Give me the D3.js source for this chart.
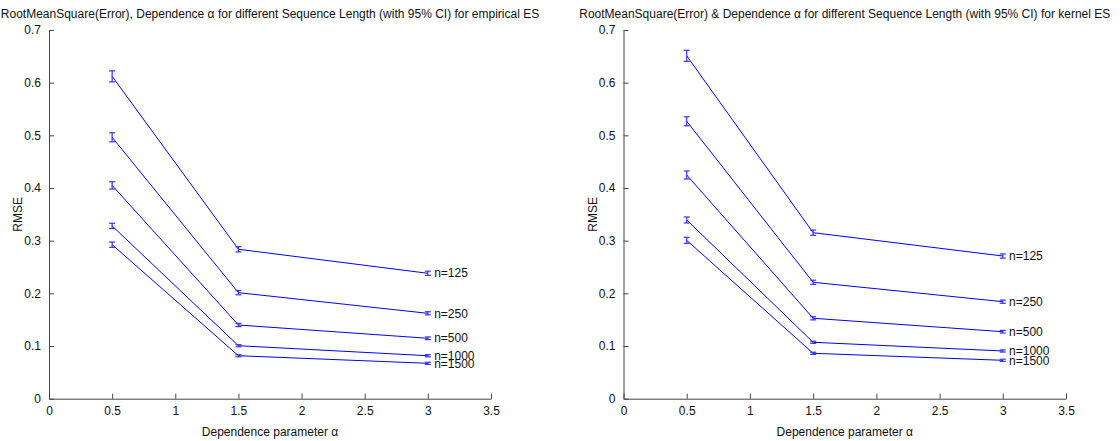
<!DOCTYPE html>
<html><head><meta charset="utf-8">
<script src="https://cdn.jsdelivr.net/npm/d3@7"></script>
<style>
html,body{margin:0;padding:0;background:#fff;}
svg{display:block;font-family:"Liberation Sans",Arial,Helvetica,sans-serif;}
</style></head>
<body><svg id="chart" width="1120" height="441"></svg>
<script>
const alphas = [0.5, 1.5, 3];
const seqLabels = ["n=125", "n=250", "n=500", "n=1000", "n=1500"];
const empRmse = [
  [0.612, 0.2837, 0.2381],
  [0.4963, 0.2013, 0.1621],
  [0.405, 0.1399, 0.1147],
  [0.328, 0.1006, 0.0816],
  [0.2924, 0.0816, 0.0672]
];
const empCI = [
  [0.0105, 0.005, 0.004],
  [0.0086, 0.004, 0.003],
  [0.007, 0.003, 0.0025],
  [0.005, 0.002, 0.002],
  [0.005, 0.002, 0.002]
];
const kerRmse = [
  [0.651, 0.3152, 0.2709],
  [0.5267, 0.221, 0.1842],
  [0.4247, 0.1527, 0.1272],
  [0.3393, 0.1071, 0.0906],
  [0.3007, 0.0862, 0.0729]
];
const kerCI = [
  [0.0105, 0.005, 0.004],
  [0.0085, 0.004, 0.003],
  [0.0076, 0.003, 0.0025],
  [0.0057, 0.002, 0.002],
  [0.0057, 0.002, 0.002]
];
const xTicks = [0, 0.5, 1, 1.5, 2, 2.5, 3, 3.5];
const yTicks = [0, 0.1, 0.2, 0.3, 0.4, 0.5, 0.6, 0.7];
const titles = [
  "RootMeanSquare(Error), Dependence \u03b1 for different Sequence Length (with 95% CI) for empirical ES",
  "RootMeanSquare(Error) & Dependence \u03b1 for different Sequence Length (with 95% CI) for kernel ES"
];
const xLabel = "Dependence parameter \u03b1";
const yLabel = "RMSE";
const labelX = 3.05;

const svg = d3.select("#chart");
const panels = [
  {x0: 49, x1: 491, rmse: empRmse, ci: empCI, title: titles[0]},
  {x0: 623.5, x1: 1066, rmse: kerRmse, ci: kerCI, title: titles[1]}
];
const yTop = 30, yBot = 398.7;
const blue = "#0000ff";

panels.forEach(p => {
  const g = svg.append("g");
  const x = d3.scaleLinear().domain([0, 3.5]).range([p.x0, p.x1]);
  const y = d3.scaleLinear().domain([0, 0.7]).range([yBot, yTop]);

  const xAxis = d3.axisBottom(x).tickValues(xTicks).tickFormat(d3.format("")).tickSizeInner(-5).tickSizeOuter(0).tickPadding(8);
  const yAxis = d3.axisLeft(y).tickValues(yTicks).tickFormat(d3.format("")).tickSizeInner(-5).tickSizeOuter(0).tickPadding(8);

  const gx = g.append("g").attr("transform", `translate(0,${yBot})`).call(xAxis);
  const gy = g.append("g").attr("transform", `translate(${p.x0},0)`).call(yAxis);
  [gx, gy].forEach(a => {
    a.selectAll("path, line").attr("stroke", "#444");
    a.selectAll("text").attr("fill", "#111").style("font-size", "12px").style("font-family", "'Liberation Sans',Arial,sans-serif");
  });

  // lines and error bars
  const line = d3.line().x((d, i) => x(alphas[i])).y(d => y(d));
  p.rmse.forEach((series, si) => {
    g.append("path").datum(series).attr("d", line)
      .attr("fill", "none").attr("stroke", blue).attr("stroke-width", 1);
    series.forEach((v, i) => {
      const cx = x(alphas[i]);
      const lo = y(v - p.ci[si][i]), hi = y(v + p.ci[si][i]);
      const eb = g.append("g").attr("stroke", "#3333ff").attr("stroke-width", 1.2);
      eb.append("line").attr("x1", cx).attr("x2", cx).attr("y1", lo).attr("y2", hi);
      eb.append("line").attr("x1", cx - 3).attr("x2", cx + 3).attr("y1", lo).attr("y2", lo);
      eb.append("line").attr("x1", cx - 3).attr("x2", cx + 3).attr("y1", hi).attr("y2", hi);
    });
    g.append("text").attr("x", x(labelX)).attr("y", y(series[2]))
      .attr("dy", "0.35em").attr("fill", "#111").style("font-size", "12px")
      .text(seqLabels[si]);
  });

  // title
  g.append("text").attr("x", (p.x0 + p.x1) / 2).attr("y", 18)
    .attr("text-anchor", "middle").attr("fill", "#111").style("font-size", "12px")
    .text(p.title);
  // x label
  g.append("text").attr("x", (p.x0 + p.x1) / 2).attr("y", 436)
    .attr("text-anchor", "middle").attr("fill", "#111").style("font-size", "12px")
    .text(xLabel);
  // y label
  g.append("text").attr("transform", `translate(${p.x0 - 27},${(yTop + yBot) / 2}) rotate(-90)`)
    .attr("text-anchor", "middle").attr("fill", "#111").style("font-size", "12px")
    .text(yLabel);
});
</script></body></html>
